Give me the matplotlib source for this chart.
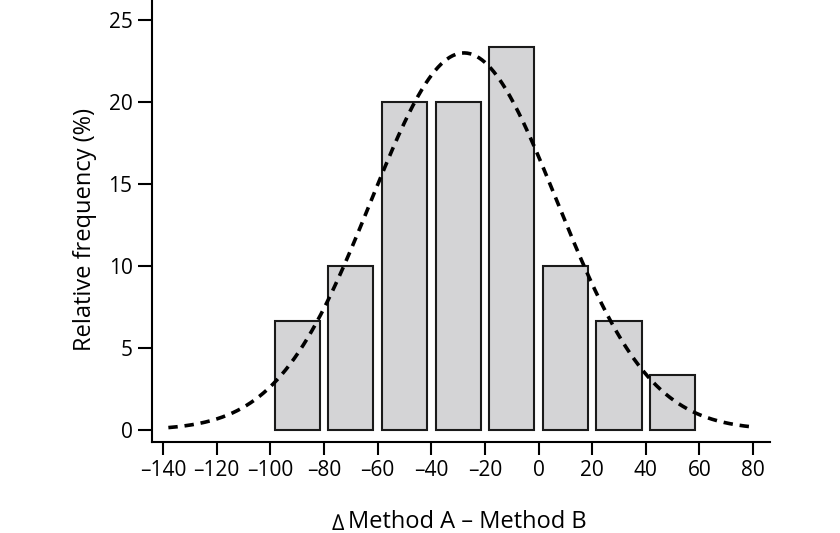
import numpy as np
import matplotlib
matplotlib.use("Agg")
import matplotlib.pyplot as plt

plt.rcParams['font.family'] = ['Open Sans', 'DejaVu Sans']

# Data
bin_centers = [-90, -70, -50, -30, -10, 10, 30, 50]
rel_freq = [6.67, 10.0, 20.0, 20.0, 23.33, 10.0, 6.67, 3.33]
fit_mean = -27.8
fit_sd = 34.7
bin_width = 20
x_ticks = [-140, -120, -100, -80, -60, -40, -20, 0, 20, 40, 60, 80]
y_ticks = [0, 5, 10, 15, 20, 25]

fig = plt.figure(figsize=(8.4, 5.33), dpi=100)
ax = fig.add_axes([152/840, 1 - 442/533, (770-152)/840, 442/533])
ax.set_facecolor('none')

ax.bar(bin_centers, rel_freq, width=16.8, color='#d4d4d6', edgecolor='#1a1a1a',
       linewidth=1.5, zorder=2)

xs = np.linspace(-138, 80, 400)
ys = 100 * bin_width / (fit_sd * np.sqrt(2 * np.pi)) * np.exp(-0.5 * ((xs - fit_mean) / fit_sd) ** 2)
ax.plot(xs, ys, color='black', linewidth=2.6, linestyle=(0, (2.6, 1.9)), zorder=3)

ax.set_xlim(-144.1, 86.3)
ax.set_ylim(-0.73, 26.22)
ax.set_xticks(x_ticks)
ax.set_xticklabels([f"\u2013{abs(t)}" if t < 0 else str(t) for t in x_ticks])
ax.set_yticks(y_ticks)

for s in ['top', 'right']:
    ax.spines[s].set_visible(False)
for s in ['left', 'bottom']:
    ax.spines[s].set_linewidth(1.5)
    ax.spines[s].set_color('black')

ax.tick_params(axis='x', direction='out', length=9, width=1.5, labelsize=15, pad=4)
ax.tick_params(axis='y', direction='out', length=10, width=1.5, labelsize=15, pad=4)

ax.set_ylabel('Relative frequency (%)', fontsize=17, labelpad=8)
ax.yaxis.label.set_y(0.48)
xl = ax.set_xlabel('Method A \u2013 Method B', fontsize=17, labelpad=21)
ax.xaxis.label.set_x(0.5105)
ax.annotate('\u2206', xy=(0, 0), xycoords=xl, xytext=(-3, -0.3), textcoords='offset points',
            ha='right', va='bottom', fontsize=15.5)

fig.savefig('out.png', dpi=100, facecolor='white')
